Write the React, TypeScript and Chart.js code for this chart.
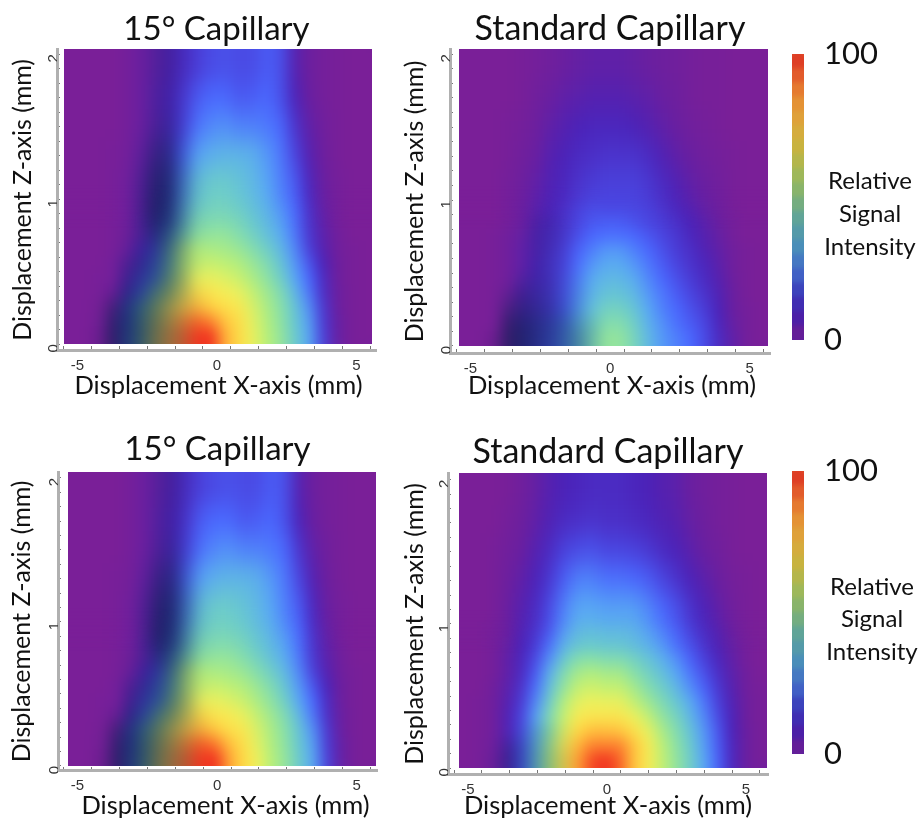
import React, { useEffect, useRef } from "react";
import { Chart, registerables } from "chart.js";
Chart.register(...registerables);

const FONT = "Lato, 'Open Sans', sans-serif";
const TICK_FONT = "'Liberation Sans', Arial, sans-serif";

// Displacement X of each column centre (mm)
const COLS = [-5.25,-4.75,-4.25,-3.75,-3.25,-2.75,-2.25,-1.75,-1.25,-0.75,-0.25,0.25,0.75,1.25,1.75,2.25,2.75,3.25,3.75,4.25,4.75,5.25];
// Displacement Z edges of the rows (mm)
const EDGES = [0,0.1,0.2,0.3,0.4,0.5,0.6,0.7,0.8,0.9,1.0,1.2,1.4,1.6,1.8,2.03];
const X_TICKS = [-5,-4,-3,-2,-1,0,1,2,3,4,5];
const X_LABELS = [-5,0,5];
const Z_TICKS = [0,0.1,0.2,0.3,0.4,0.5,0.6,0.7,0.8,0.9,1,1.1,1.2,1.3,1.4,1.5,1.6,1.7,1.8,1.9,2];
const Z_LABELS = [0,1,2];
const BAR_LEVELS = [0,5,10,15,20,25,30,35,40,45,50,55,60,65,70,75,80,85,90,95];

// Relative signal intensity, rows bottom (z=0) to top
const capillary15A = [
  [1,1,2,7,28,48,68,84,92,99,100,84,75,66,58,52,43,34,19,7,2,1],
  [1,1,2,7,26,46,64,78,88,93,90,80,74,65,57,51,42,33,18,7,2,1],
  [1,1,2,5,24,42,58,70,78,82,78,74,71,63,56,50,41,31,17,6,2,1],
  [1,1,2,4,14,28,48,60,68,74,72,69,66,60,54,48,38,28,15,6,2,1],
  [1,1,2,3,10,20,32,52,62,66,66,64,61,56,51,44,34,26,14,5,2,1],
  [1,1,1,3,8,15,28,46,58,60,61,59,57,53,48,41,32,23,12,5,2,1],
  [1,1,1,2,6,12,22,44,56,57,56,55,53,49,44,38,30,19,10,4,2,1],
  [1,1,1,2,4,9,18,36,47,51,52,52,49,45,40,35,28,17,9,4,1,1],
  [1,1,1,2,4,9,14,28,40,47,48,48,46,42,38,33,27,16,8,3,1,1],
  [1,1,1,2,4,8,12,24,36,43,45,45,43,40,36,31,26,15,7,3,1,1],
  [1,1,1,2,4,8,11,20,32,40,43,43,41,38,34,29,24,13,6,3,1,1],
  [1,1,1,2,3,7,10,16,26,33,36,37,37,36,32,28,20,10,5,2,1,1],
  [1,1,1,1,3,6,9,13,19,27,30,31,29,29,28,26,16,8,4,2,1,1],
  [1,1,1,1,3,6,9,12,17,23,26,26,23,24,26,22,12,6,3,2,1,1],
  [1,1,1,1,3,6,8,11,14,18,21,22,21,21,24,22,10,5,3,2,1,1],
];
const standardA = [
  [1,1,2,6,14,20,24,31,40,47,52,52,46,38,32,29,26,21,14,8,3,1],
  [1,1,2,6,13,18,22,29,37,44,49,49,44,36,31,27,24,20,13,7,3,1],
  [1,1,2,6,11,15,18,25,33,40,45,45,41,34,29,26,22,18,12,6,3,1],
  [1,1,2,5,10,14,17,23,31,37,41,41,38,32,28,24,20,16,11,6,2,1],
  [1,1,2,4,9,13,16,22,29,35,38,38,35,30,26,22,18,14,10,5,2,1],
  [1,1,2,4,8,12,16,20,27,32,35,35,32,28,24,20,16,13,9,4,2,1],
  [1,1,2,4,8,11,15,19,25,29,32,32,29,26,22,18,15,11,8,4,2,1],
  [1,1,2,4,7,11,14,17,22,26,27,27,26,23,20,17,13,10,7,3,1,1],
  [1,1,1,3,6,10,13,16,20,23,24,24,22,20,18,15,12,9,6,3,1,1],
  [1,1,1,3,6,9,12,15,19,21,20,20,20,19,16,13,10,7,5,2,1,1],
  [1,1,1,3,5,8,11,13,16,18,19,19,19,17,14,11,8,6,4,2,1,1],
  [1,1,1,2,4,6,10,12,14,15,16,16,16,14,11,8,6,4,3,2,1,1],
  [1,1,1,2,3,5,8,10,12,13,13,13,12,10,8,6,4,3,2,1,1,1],
  [1,1,1,1,2,4,6,8,9,10,10,10,9,8,6,5,3,2,2,1,1,1],
  [1,1,1,1,2,3,4,6,7,8,8,8,7,6,5,4,3,2,2,1,1,1],
];
const capillary15B = [
  [1,1,2,7,28,49,69,85,93,99,100,86,76,67,58,52,43,34,19,7,2,1],
  [1,1,2,7,26,47,65,79,89,94,91,81,74,65,57,51,42,33,18,7,2,1],
  [1,1,2,5,24,43,59,71,79,83,79,74,71,63,56,50,41,31,17,6,2,1],
  [1,1,2,4,14,29,49,61,69,75,72,70,66,60,54,48,38,28,15,6,2,1],
  [1,1,2,3,10,21,33,53,63,66,66,64,61,56,51,44,34,26,14,5,2,1],
  [1,1,1,3,8,16,29,47,59,60,61,59,57,53,48,41,32,23,12,5,2,1],
  [1,1,1,2,6,12,23,45,57,57,56,55,53,49,44,38,30,19,10,4,2,1],
  [1,1,1,2,4,9,19,37,48,51,52,52,49,45,40,35,28,17,9,4,1,1],
  [1,1,1,2,4,9,14,29,41,47,48,48,46,42,38,33,27,16,8,3,1,1],
  [1,1,1,2,4,8,12,25,37,43,45,45,43,40,36,31,26,15,7,3,1,1],
  [1,1,1,2,4,8,11,21,32,40,43,43,41,38,34,29,24,13,6,3,1,1],
  [1,1,1,2,3,7,10,16,27,33,36,37,37,36,32,28,20,10,5,2,1,1],
  [1,1,1,1,3,6,9,13,20,27,30,31,29,29,28,26,16,8,4,2,1,1],
  [1,1,1,1,3,6,9,12,17,24,26,26,23,24,26,22,12,6,3,2,1,1],
  [1,1,1,1,3,6,8,11,15,19,21,22,21,21,24,22,10,5,3,2,1,1],
];
const standardB = [
  [1,2,5,11,24,40,56,72,86,97,100,94,80,70,60,52,44,34,25,13,6,2],
  [1,2,5,11,23,38,54,69,82,90,90,90,80,70,59,51,43,33,24,13,6,2],
  [1,2,4,11,22,36,50,64,76,81,81,80,74,66,56,49,41,32,23,12,6,2],
  [1,2,4,11,20,33,48,60,70,72,72,72,67,60,52,46,38,30,21,12,5,2],
  [1,2,4,10,18,30,44,57,65,67,66,66,60,54,48,42,35,28,19,11,5,2],
  [1,1,4,9,16,27,40,52,60,62,60,60,55,49,44,38,31,25,17,10,4,2],
  [1,1,3,8,14,24,36,48,55,57,55,55,50,45,40,34,28,22,15,9,4,1],
  [1,1,3,8,13,21,31,42,49,50,48,48,45,41,36,31,25,19,13,8,3,1],
  [1,1,3,7,12,18,27,36,41,42,41,41,39,36,32,27,22,16,11,7,3,1],
  [1,1,3,6,11,16,23,32,38,39,38,38,37,33,29,25,19,14,10,6,2,1],
  [1,1,2,6,10,14,21,29,34,34,33,33,33,30,26,22,16,12,8,4,2,1],
  [1,1,2,5,8,12,17,24,29,29,27,27,26,24,20,16,12,9,6,3,2,1],
  [1,1,2,4,6,10,14,19,21,22,20,20,19,17,14,12,9,6,4,2,1,1],
  [1,1,1,3,5,8,11,14,15,16,15,15,14,13,11,10,7,5,3,2,1,1],
  [1,1,1,2,4,7,10,12,13,14,14,14,13,12,10,9,6,4,3,2,1,1],
];

// Dark shadow strength over the left columns, rows bottom to top
const shadow15 = [
  [0,0,.1,.6,.72,.68,.6,.42,.25,0],
  [0,0,.05,.55,.7,.66,.58,.42,.2,.03],
  [0,0,.03,.4,.65,.62,.55,.42,.22,.05],
  [0,0,0,.1,.45,.55,.55,.48,.3,.05],
  [0,0,0,0,.3,.45,.55,.5,.3,.03],
  [0,0,0,0,.2,.4,.55,.5,.28,.03],
  [0,0,0,0,.05,.25,.5,.55,.3,.03],
  [0,0,0,0,.05,.2,.58,.62,.32,.04],
  [0,0,0,0,0,.25,.65,.68,.35,.05],
  [0,0,0,0,0,.25,.68,.7,.35,.05],
  [0,0,0,0,0,.2,.62,.68,.35,.05],
  [0,0,0,0,0,.08,.42,.5,.22,0],
  [0,0,0,0,0,0,.18,.25,.08,0],
  [0,0,0,0,0,0,.12,.15,.03,0],
  [0,0,0,0,0,0,.12,.18,.05,0],
];
const shadowStdA = [
  [0,0,.1,.62,.66,.58,.5,.45,.35,.15],
  [0,0,0,.52,.58,.52,.45,.4,.25,.1],
  [0,0,0,.32,.42,.38,.3,.25,.15,0],
  [0,0,0,.12,.28,.28,.22,.15,.1,0],
  [0,0,0,0,.12,.18,.15,.1,.05,0],
  [0,0,0,0,0,.12,.12,.05,0,0],
  [0,0,0,0,0,.12,.12,.05,0,0],
  [0,0,0,0,0,.12,.12,.05,0,0],
  [0,0,0,0,0,.1,.1,.03,0,0],
];
const shadowStdB = [
  [0,0,.05,.3,.3,.25,.2,.15,0,0],
  [0,0,0,.2,.25,.2,.15,.1,0,0],
  [0,0,0,0,.1,.15,.1,.05,0,0],
];

// Colour stops: image colours and colour-bar colours
const IMAGE_STOPS: [number,string][] = [[0,"#7d1f96"],[6,"#6a1fa0"],[12,"#4b22b8"],[20,"#4a45e0"],[26,"#4a68ff"],[34,"#58a8f5"],[42,"#68c8d0"],[50,"#88e0a8"],[58,"#b8f078"],[68,"#f5f058"],[76,"#ffd845"],[86,"#ffa035"],[94,"#f86028"],[100,"#f03020"]];
const BAR_STOPS: [number,string][] = [[0,"#701e90"],[8,"#4a1fa8"],[15,"#3a35b8"],[24,"#4268c8"],[33,"#4a90b8"],[42,"#5ea39a"],[50,"#7eb274"],[58,"#a0b858"],[66,"#c4b540"],[75,"#dca83c"],[85,"#e78a33"],[93,"#e2582a"],[100,"#dc2f22"]];

const hex = (s: string) => [1,3,5].map(i => parseInt(s.slice(i,i+2),16));
function colour(stops: [number,string][], v: number) {
  for (let i = 1; i < stops.length; i++) {
    if (v <= stops[i][0]) {
      const t = (v - stops[i-1][0]) / (stops[i][0] - stops[i-1][0]);
      const a = hex(stops[i-1][1]), b = hex(stops[i][1]);
      return `rgb(${a.map((c,k)=>Math.round(c+(b[k]-c)*t)).join(",")})`;
    }
  }
  return stops[stops.length-1][1];
}

function softenPlugin(src: (c:any)=>number[], dst: (c:any)=>number[], sigma: number, fade?: (c:any)=>number[]) {
  return {
    id: "soften",
    afterDatasetsDraw(chart: any) {
      const [sx,sy,sr,sb] = src(chart);
      const [dx,dy,dr,db] = dst(chart).map(Math.round);
      const sw = sr-sx, sh = sb-sy, dw = dr-dx, dh = db-dy, p = 40;
      const mk = (w:number,h:number) => { const c = document.createElement("canvas"); c.width=w; c.height=h; return c; };
      const a = mk(dw+2*p,dh+2*p);
      const o = a.getContext("2d")!;
      const cv = chart.canvas;
      o.drawImage(cv,sx,sy,sw,sh,0,0,a.width,a.height);
      o.drawImage(cv,sx+1,sy,1,sh,0,p,p,dh);
      o.drawImage(cv,sr-2,sy,1,sh,p+dw,p,p,dh);
      o.drawImage(cv,sx,sy+1,sw,1,p,0,dw,p);
      o.drawImage(cv,sx,sb-2,sw,1,p,p+dh,dw,p);
      o.drawImage(cv,sx,sy,sw,sh,p,p,dw,dh);
      const b = mk(a.width,a.height);
      const q = b.getContext("2d")!;
      q.filter = `blur(${sigma}px)`;
      q.drawImage(a,0,0);
      q.filter = "none";
      if (fade) {
        // the tall upper rows need a stronger vertical softening
        const [yTop,yBottom] = fade(chart);
        const small = mk(a.width,Math.round(a.height/4));
        const s = small.getContext("2d")!;
        s.filter = "blur(2.5px)";
        s.drawImage(b,0,0,small.width,small.height);
        const d = mk(a.width,a.height);
        const t = d.getContext("2d")!;
        t.imageSmoothingQuality = "high";
        t.drawImage(small,0,0,d.width,d.height);
        t.globalCompositeOperation = "destination-in";
        const g = t.createLinearGradient(0,p+yTop-dy,0,p+yBottom-dy);
        g.addColorStop(0,"rgba(0,0,0,1)");
        g.addColorStop(1,"rgba(0,0,0,0)");
        t.fillStyle = g;
        t.fillRect(0,0,d.width,d.height);
        q.drawImage(d,0,0);
      }
      const ctx = chart.ctx;
      ctx.save();
      ctx.fillStyle = "#fff";
      const fx = Math.floor(Math.min(sx,dx))-1, fy = Math.floor(Math.min(sy,dy))-1;
      ctx.fillRect(fx,fy,Math.ceil(Math.max(sr,dr))+1-fx,Math.ceil(Math.max(sb,db))+1-fy);
      ctx.drawImage(b,p,p,dw,dh,dx,dy,dw,dh);
      ctx.restore();
    },
  };
}

const PANELS = [
  { title:"15° Capillary", titleSize:33, values:capillary15A, shadow:shadow15, box:[0,0,400,410], area:[57,49,376,350], xr:[-5.73,5.70], zr:[-0.04,2.03], data:[-5.48,5.57], yTitlePad:9, xTitlePad:10, titlePad:[11,2], xTitleShift:2 },
  { title:"Standard Capillary", titleSize:34, values:standardA, shadow:shadowStdA, box:[400,0,380,410], area:[50,49,370,353], xr:[-5.735,5.73], zr:[-0.048,2.03], data:[-5.41,5.66], yTitlePad:1, xTitlePad:10, titlePad:[11,2], xTitleShift:2 },
  { title:"15° Capillary", titleSize:33, values:capillary15B, shadow:shadow15, box:[0,410,400,410], area:[58,62,377,360], xr:[-5.70,5.73], zr:[-0.028,2.035], data:[-5.34,5.70], yTitlePad:8, xTitlePad:0, titlePad:[21,5], xTitleShift:8 },
  { title:"Standard Capillary", titleSize:34, values:standardB, shadow:shadowStdB, box:[400,410,380,410], area:[48,63,368,364], xr:[-5.72,5.79], zr:[-0.04,2.04], data:[-5.32,5.76], yTitlePad:1, xTitlePad:0, titlePad:[24,3], xTitleShift:0 },
];
const BARS = [
  { box:[780,0,142,410], area:[12,54,24,340], text:[180,213,246], cx:870 },
  { box:[780,410,142,410], area:[12,61,24,344], text:[586,618,651], cx:872 },
];

const fitTo = (dim:"width"|"height", size:number) => (s:any) => {
  s[dim] = size; s.paddingLeft = 0; s.paddingRight = 0; s.paddingTop = 0; s.paddingBottom = 0;
};

function panelConfig(p:any) {
  const [W,H] = [p.box[2],p.box[3]];
  const [L,T,R,B] = p.area;
  const datasets:any[] = [];
  // Chart.js paints the first dataset last, so the shadow overlay comes first
  p.shadow.forEach((row:number[],r:number) => {
    datasets.push({
      data: COLS.map((x)=>({x,y:[EDGES[r],EDGES[r+1]]})),
      backgroundColor: COLS.map((_,i)=>`rgba(16,30,72,${row[i] ?? 0})`),
    });
  });
  p.values.forEach((row:number[],r:number) => {
    datasets.push({
      data: COLS.map((x)=>({x,y:[EDGES[r],EDGES[r+1]]})),
      backgroundColor: row.map(v=>colour(IMAGE_STOPS,v)),
    });
  });
  datasets.forEach(d=>{ d.grouped=false; d.barThickness=14; d.borderWidth=0; d.borderSkipped=false; });
  const axisColour = "#b0b0b0";
  const shiftTitle = { id:"shiftTitle", beforeDraw(c:any){
    const s = c.scales.x;
    if (s.__shifted) return;
    s.__shifted = true;
    const draw = s.drawTitle;
    s.drawTitle = function(){ const r = s.right; s.right = r + 2*p.xTitleShift; draw.call(s); s.right = r; };
  } };
  return {
    type:"bar",
    data:{ datasets },
    plugins:[shiftTitle, softenPlugin(
      c=>[c.scales.x.getPixelForValue(COLS[0]-0.25),c.scales.y.getPixelForValue(EDGES[EDGES.length-1]),c.scales.x.getPixelForValue(COLS[COLS.length-1]+0.25),c.scales.y.getPixelForValue(0)],
      c=>[c.scales.x.getPixelForValue(p.data[0]),T,c.scales.x.getPixelForValue(p.data[1]),c.scales.y.getPixelForValue(0)],
      7,
      c=>[c.scales.y.getPixelForValue(1.1),c.scales.y.getPixelForValue(0.8)])],
    options:{
      responsive:false, animation:false, events:[],
      layout:{ padding:{ left:0, right:W-R, top:0, bottom:0 } },
      plugins:{
        legend:{display:false}, tooltip:{enabled:false},
        title:{ display:true, text:p.title, fullSize:false, color:"#111",
          font:{family:FONT,size:p.titleSize,weight:"normal",lineHeight:36.85/p.titleSize},
          padding:{top:p.titlePad[0],bottom:p.titlePad[1]} },
      },
      scales:{
        x:{ type:"linear", offset:false, min:p.xr[0], max:p.xr[1], afterBuildTicks:(s:any)=>{s.ticks=X_TICKS.map(value=>({value}));},
          afterFit:fitTo("height",H-B),
          border:{color:axisColour,width:3},
          grid:{drawOnChartArea:false,drawTicks:true,tickLength:-4,color:"#777",tickWidth:1},
          ticks:{autoSkip:false,maxRotation:0,minRotation:0,padding:11,color:"#333",font:{family:TICK_FONT,size:15},
            callback:(v:number)=>X_LABELS.includes(v)?String(v):""},
          title:{display:true,text:"Displacement X-axis (mm)",color:"#111",font:{family:FONT,size:25.5,lineHeight:1.1},padding:{top:0,bottom:p.xTitlePad}},
        },
        y:{ type:"linear", min:p.zr[0], max:p.zr[1], afterBuildTicks:(s:any)=>{s.ticks=Z_TICKS.map(value=>({value}));},
          afterFit:fitTo("width",L),
          border:{color:axisColour,width:3},
          grid:{drawOnChartArea:false,drawTicks:true,tickLength:-3,color:"#777",tickWidth:1},
          ticks:{autoSkip:false,minRotation:90,maxRotation:90,padding:6,color:"#333",font:{family:TICK_FONT,size:15},
            callback:(v:number)=>Z_LABELS.includes(v)?String(v):""},
          title:{display:true,text:"Displacement Z-axis (mm)",color:"#111",font:{family:FONT,size:25,lineHeight:1.1},padding:{top:p.yTitlePad,bottom:0}},
        },
      },
    },
  };
}

function barConfig(b:any) {
  const [W,H] = [b.box[2],b.box[3]];
  const [L,T,R,B] = b.area;
  return {
    type:"bar",
    data:{ datasets: BAR_LEVELS.map(l=>({
      data:[{x:0,y:[l,l+5]}],
      backgroundColor:colour(BAR_STOPS,l+2.5),
      barThickness:R-L, borderWidth:0, borderSkipped:false, grouped:false,
    })) },
    plugins:[softenPlugin(
      c=>[c.chartArea.left,c.chartArea.top,c.chartArea.right,c.chartArea.bottom],
      c=>[c.chartArea.left,c.chartArea.top,c.chartArea.right,c.chartArea.bottom], 2.5)],
    options:{
      responsive:false, animation:false, events:[],
      layout:{padding:{left:L,top:T,right:0,bottom:H-B}},
      plugins:{legend:{display:false},tooltip:{enabled:false},title:{display:false}},
      scales:{
        x:{type:"linear",display:false,offset:false,min:-1,max:1},
        y:{type:"linear",position:"right",min:0,max:100,
          afterBuildTicks:(s:any)=>{s.ticks=[{value:0},{value:100}];},
          afterFit:fitTo("width",W-R),
          border:{display:false},grid:{display:false},
          ticks:{autoSkip:false,padding:12,color:"#111",font:{family:FONT,size:31}},
        },
      },
    },
  };
}

function ChartCanvas({ box, make }:{box:number[],make:()=>any}) {
  const ref = useRef<HTMLCanvasElement>(null);
  useEffect(()=>{
    const c = new Chart(ref.current!, make());
    return ()=>c.destroy();
  },[]);
  return <canvas ref={ref} width={box[2]} height={box[3]} style={{position:"absolute",left:box[0],top:box[1],width:box[2],height:box[3]}}/>;
}

export default function App() {
  return (
    <div style={{position:"absolute",left:0,top:0,width:922,height:820,background:"#fff",overflow:"hidden",filter:"blur(0.35px)"}}>
      {PANELS.map((p,i)=><ChartCanvas key={i} box={p.box} make={()=>panelConfig(p)}/>)}
      {BARS.map((b,i)=><ChartCanvas key={"b"+i} box={b.box} make={()=>barConfig(b)}/>)}
      {BARS.map((b,i)=>["Relative","Signal","Intensity"].map((t,k)=>(
        <div key={i+"-"+k} style={{position:"absolute",left:b.cx-60,width:120,top:b.text[k]-15,height:30,lineHeight:"30px",textAlign:"center",fontFamily:FONT,fontSize:24,color:"#111"}}>{t}</div>
      )))}
    </div>
  );
}
